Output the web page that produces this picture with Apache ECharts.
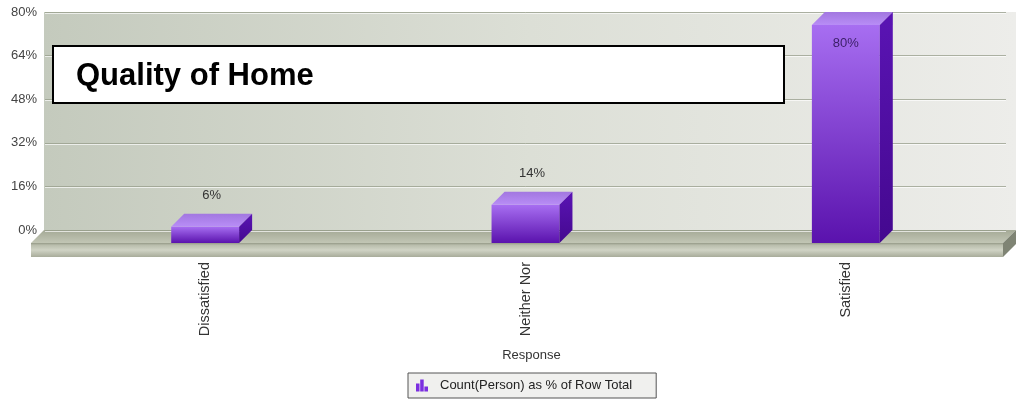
<!DOCTYPE html>
<html>
<head>
<meta charset="utf-8">
<script src="https://cdn.jsdelivr.net/npm/echarts@6/dist/echarts.min.js"></script>
<style>
  html, body { margin: 0; padding: 0; background: #fff; }
  #chart { width: 1016px; height: 409px; }
</style>
</head>
<body>
<div id="chart"></div>
<script>
const categories = ['Dissatisfied', 'Neither Nor', 'Satisfied']
const rowPercent = [6, 14, 80]
const yMin = 0
const yMax = 80
const yStep = 16
const seriesName = 'Count(Person) as % of Row Total'
const chartTitle = 'Quality of Home'
const axisTitle = 'Response'

const FONT = '"Liberation Sans", Arial, sans-serif'
const DEPTH = 13

const chart = echarts.init(document.getElementById('chart'))

// back wall + floor slab, drawn from the grid rect
const renderStage = (params, api) => {
  const cs = params.coordSys
  const zero = api.coord([0, 0])[1]
  const wl = cs.x - 1
  const wr = 1016
  const fy = zero + DEPTH
  return {
    type: 'group',
    children: [
      {
        type: 'rect',
        shape: { x: wl, y: cs.y, width: wr - wl, height: zero - cs.y },
        style: {
          fill: new echarts.graphic.LinearGradient(0, 0, 1, 0, [
            { offset: 0, color: '#c4cabd' },
            { offset: 0.5, color: '#dcdfd6' },
            { offset: 1, color: '#ededea' }
          ])
        }
      },
      {
        type: 'polygon',
        shape: { points: [[wl, zero], [wr, zero], [wr - DEPTH, fy], [wl - DEPTH, fy]] },
        style: {
          fill: new echarts.graphic.LinearGradient(0, 0, 0, 1, [
            { offset: 0, color: '#a4a996' },
            { offset: 1, color: '#c2c6b5' }
          ])
        }
      },
      {
        type: 'rect',
        shape: { x: wl - DEPTH, y: fy, width: wr - wl, height: 14 },
        style: {
          fill: new echarts.graphic.LinearGradient(0, 0, 0, 1, [
            { offset: 0, color: '#959a87' },
            { offset: 0.15, color: '#b9bdac' },
            { offset: 0.5, color: '#d0d3c5' },
            { offset: 1, color: '#a8ac9a' }
          ])
        }
      },
      {
        type: 'polygon',
        shape: { points: [[wr - DEPTH, fy], [wr, zero], [wr, zero + 14], [wr - DEPTH, fy + 14]] },
        style: { fill: '#7f8474' }
      }
    ]
  }
}

const renderBar = (params, api) => {
  const cat = api.value(0)
  const val = api.value(1)
  const top = api.coord([cat, val])
  const base = api.coord([cat, 0])
  const w = api.size([1, 0])[0] * 0.212
  const fl = top[0] - w / 2
  const fr = top[0] + w / 2
  const ft = top[1] + DEPTH
  const fb = base[1] + DEPTH
  const above = top[1] - 24 > params.coordSys.y
  return {
    type: 'group',
    children: [
      {
        type: 'rect',
        shape: { x: fl, y: ft, width: w, height: fb - ft },
        style: {
          fill: new echarts.graphic.LinearGradient(0, 0, 0, 1, [
            { offset: 0, color: '#a76ef1' },
            { offset: 1, color: '#5a12ad' }
          ])
        }
      },
      {
        type: 'polygon',
        shape: { points: [[fl, ft], [fl + DEPTH, ft - DEPTH], [fr + DEPTH, ft - DEPTH], [fr, ft]] },
        style: {
          fill: new echarts.graphic.LinearGradient(0, 0, 0, 1, [
            { offset: 0, color: '#a277e0' },
            { offset: 1, color: '#b88df6' }
          ])
        }
      },
      {
        type: 'polygon',
        shape: { points: [[fr, ft], [fr + DEPTH, ft - DEPTH], [fr + DEPTH, fb - DEPTH], [fr, fb]] },
        style: {
          fill: new echarts.graphic.LinearGradient(0, 0, 0, 1, [
            { offset: 0, color: '#5a14b4' },
            { offset: 1, color: '#44088f' }
          ])
        }
      },
      {
        type: 'text',
        style: {
          text: Math.round(val) + '%',
          x: above ? top[0] + DEPTH / 2 : top[0],
          y: above ? top[1] - 18 : ft + 18,
          align: 'center',
          verticalAlign: 'middle',
          fill: above ? '#333' : '#3a1f66',
          font: '13px ' + FONT
        }
      }
    ]
  }
}

const option = {
  backgroundColor: '#fff',
  animation: false,
  textStyle: { fontFamily: FONT },
  grid: { left: 45, right: 10, top: 12, bottom: 179 },
  legend: {
    left: 408,
    top: 373,
    padding: [6, 24, 6, 8],
    backgroundColor: '#f0f0ee',
    borderColor: '#555',
    borderWidth: 1,
    itemWidth: 12,
    itemHeight: 12,
    data: [{ name: seriesName, icon: 'path://M0,4H3.5V12H0Z M4.2,0H7.7V12H4.2Z M8.4,7H12V12H8.4Z' }],
    itemStyle: { color: '#7b2fe0' },
    textStyle: { fontSize: 13, color: '#222', fontFamily: FONT, padding: [0, 0, 0, 7] }
  },
  xAxis: {
    type: 'category',
    data: categories,
    axisLine: { show: false },
    axisTick: { show: false },
    axisLabel: { rotate: 90, margin: 32, fontSize: 14.5, color: '#333', fontFamily: FONT },
    name: axisTitle,
    nameLocation: 'middle',
    nameGap: 119,
    nameTextStyle: { fontSize: 13, color: '#333', fontFamily: FONT, padding: [0, 0, 0, 12] }
  },
  yAxis: {
    type: 'value',
    min: yMin,
    max: yMax,
    interval: yStep,
    axisLine: { show: false },
    axisTick: { show: false },
    axisLabel: { formatter: '{value}%', fontSize: 13, color: '#444', margin: 8, fontFamily: FONT },
    splitLine: {
      lineStyle: {
        color: 'rgba(150,156,138,0.75)',
        width: 1,
        shadowColor: 'rgba(255,255,255,0.9)',
        shadowOffsetY: 1,
        shadowBlur: 0
      }
    }
  },
  graphic: {
    z: 50,
    elements: [
      {
        type: 'group',
        left: 52,
        top: 45,
        z: 100,
        children: [
          {
            type: 'rect',
            z: 100,
            shape: { x: 0, y: 0, width: 731, height: 57 },
            style: { fill: '#fff', stroke: '#000', lineWidth: 2 }
          },
          {
            type: 'text',
            z: 101,
            style: {
              text: chartTitle,
              x: 23,
              y: 30,
              verticalAlign: 'middle',
              fill: '#000',
              font: 'bold 31px ' + FONT
            }
          }
        ]
      }
    ]
  },
  series: [
    {
      type: 'custom',
      name: 'stage',
      z: -1,
      silent: true,
      renderItem: renderStage,
      data: [[0, 0]]
    },
    {
      type: 'custom',
      name: seriesName,
      itemStyle: { color: '#7b2fe0' },
      renderItem: renderBar,
      encode: { x: 0, y: 1 },
      data: categories.map((c, i) => [i, rowPercent[i]])
    }
  ]
}

chart.setOption(option)
</script>
</body>
</html>
